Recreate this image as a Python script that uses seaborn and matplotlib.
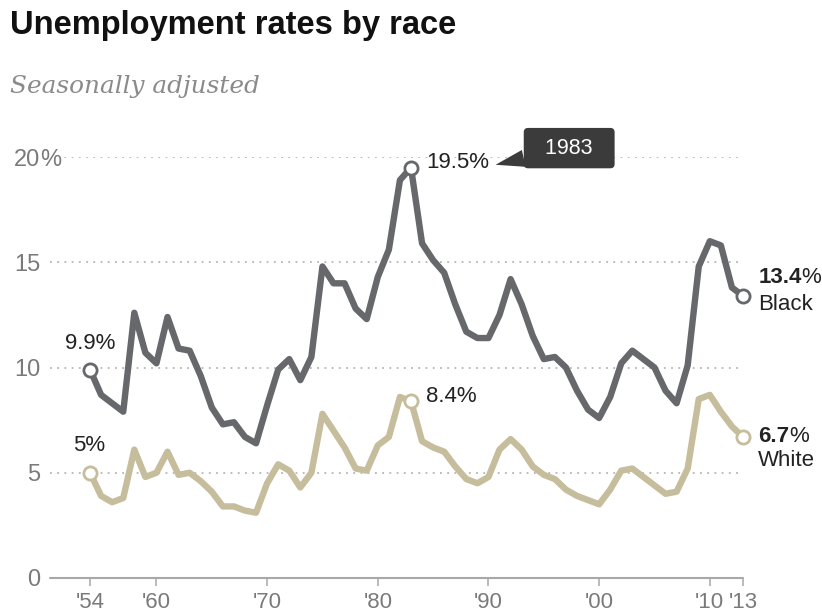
import numpy as np
import pandas as pd
import matplotlib
matplotlib.use("Agg")
import matplotlib.pyplot as plt
import seaborn as sns

# annual unemployment rates, %
years = list(range(1954, 2014))
black = [9.9, 8.7, 8.3, 7.9, 12.6, 10.7, 10.2, 12.4, 10.9, 10.8,
         9.6, 8.1, 7.3, 7.4, 6.7, 6.4, 8.2, 9.9, 10.4, 9.4,
         10.5, 14.8, 14.0, 14.0, 12.8, 12.3, 14.3, 15.6, 18.9, 19.5,
         15.9, 15.1, 14.5, 13.0, 11.7, 11.4, 11.4, 12.5, 14.2, 13.0,
         11.5, 10.4, 10.5, 10.0, 8.9, 8.0, 7.6, 8.6, 10.2, 10.8,
         10.4, 10.0, 8.9, 8.3, 10.1, 14.8, 16.0, 15.8, 13.8, 13.4]
white = [5.0, 3.9, 3.6, 3.8, 6.1, 4.8, 5.0, 6.0, 4.9, 5.0,
         4.6, 4.1, 3.4, 3.4, 3.2, 3.1, 4.5, 5.4, 5.1, 4.3,
         5.0, 7.8, 7.0, 6.2, 5.2, 5.1, 6.3, 6.7, 8.6, 8.4,
         6.5, 6.2, 6.0, 5.3, 4.7, 4.5, 4.8, 6.1, 6.6, 6.1,
         5.3, 4.9, 4.7, 4.2, 3.9, 3.7, 3.5, 4.2, 5.1, 5.2,
         4.8, 4.4, 4.0, 4.1, 5.2, 8.5, 8.7, 7.9, 7.2, 6.7]

xticks = [1954, 1960, 1970, 1980, 1990, 2000, 2010, 2013]
xlabels = ["'54", "'60", "'70", "'80", "'90", "'00", "'10", "'13"]
yticks = [0, 5, 10, 15, 20]
ylabels = ["0", "5", "10", "15", "20"]
marked_years = [1954, 1983, 2013]

BLACK_C = "#67686c"
WHITE_C = "#c6bd9c"
TICK_C = "#7a7a7a"
TEXT_C = "#222222"

df = pd.DataFrame({"year": years, "Black": black, "White": white})

sns.set_style("white")
plt.rcParams["font.family"] = ["Liberation Sans", "DejaVu Sans"]

fig = plt.figure(figsize=(8.22, 6.16), dpi=100)
ax = fig.add_axes([0.0608, 0.0617, 0.8431, 0.6834])

for col, c in [("White", WHITE_C), ("Black", BLACK_C)]:
    sns.lineplot(data=df, x="year", y=col, color=c, lw=4.6, ax=ax,
                 clip_on=False, zorder=3, solid_joinstyle="round",
                 solid_capstyle="round")
    pts = df[df["year"].isin(marked_years)]
    ax.plot(pts["year"], pts[col], "o", ms=9.5, mfc="white", mec=c,
            mew=2.0, clip_on=False, zorder=4)

ax.set_xlim(1950.38, 2013)
ax.set_ylim(0, 20)
ax.set_xticks(xticks)
ax.set_xticklabels(xlabels)
ax.set_yticks(yticks)
ax.set_yticklabels(ylabels)
ax.set_xlabel("")
ax.set_ylabel("")
for s in ax.spines.values():
    s.set_visible(False)
ax.axhline(0, color="#a8a8a8", lw=1.5, zorder=2, clip_on=False)
ax.yaxis.grid(True, color="#b5b5b5", lw=1.3, linestyle=(0, (1, 3)))
ax.xaxis.grid(False)
ax.tick_params(axis="x", length=6, width=1.1, color="#a8a8a8", pad=4,
               labelsize=16, labelcolor=TICK_C, direction="out", bottom=True)
ax.tick_params(axis="y", length=0, pad=7, labelsize=17, labelcolor=TICK_C)

fig.canvas.draw()
top_lbl = ax.get_yticklabels()[-1]
ax.annotate("%", xy=(1, 0), xycoords=top_lbl, ha="left", va="bottom",
            fontsize=17, color=TICK_C, zorder=5,
            bbox=dict(fc="white", ec="none", pad=1))

# point labels
ann = dict(textcoords="offset points", fontsize=16, color=TEXT_C)
ax.annotate("9.9%", xy=(1954, black[0]), xytext=(0, 19), ha="center", va="center", **ann)
ax.annotate("5%", xy=(1954, white[0]), xytext=(-1, 19.5), ha="center", va="center", **ann)
i83 = years.index(1983)
lbl195 = ax.annotate("19.5%", xy=(1983, black[i83]), xytext=(11, 3.5),
                     ha="left", va="center", **ann)
ax.annotate("8.4%", xy=(1983, white[i83]), xytext=(11, 3.5),
            ha="left", va="center", **ann)

b13 = ax.annotate("13.4", xy=(2013, black[-1]), xytext=(11, 13.5), ha="left",
                  va="center", fontweight="bold", annotation_clip=False, **ann)
ax.annotate("%", xy=(1, 0), xycoords=b13, ha="left", va="bottom",
            fontsize=16, color=TEXT_C, annotation_clip=False)
ax.annotate("Black", xy=(2013, black[-1]), xytext=(11, -6.5), ha="left",
            va="center", annotation_clip=False, **ann)
w13 = ax.annotate("6.7", xy=(2013, white[-1]), xytext=(11, 0.5), ha="left",
                  va="center", fontweight="bold", annotation_clip=False, **ann)
ax.annotate("%", xy=(1, 0), xycoords=w13, ha="left", va="bottom",
            fontsize=16, color=TEXT_C, annotation_clip=False)
ax.annotate("White", xy=(2013, white[-1]), xytext=(11, -17), ha="left",
            va="center", annotation_clip=False, **ann)

# tooltip for the 1983 peak
ax.annotate("  1983  ", xy=(1.1, 0.4), xycoords=lbl195,
            xytext=(53, 12), textcoords="offset points",
            ha="center", va="center", fontsize=15.5, color="white",
            bbox=dict(boxstyle="round,pad=0.45,rounding_size=0.2",
                      fc="#3b3b3b", ec="none"),
            arrowprops=dict(arrowstyle="wedge,tail_width=0.8,shrink_factor=0.5",
                            fc="#3b3b3b", ec="none", shrinkA=0, shrinkB=0),
            annotation_clip=False)

fig.text(10 / 822, 1 - 34 / 616, "Unemployment rates by race",
         fontsize=23.5, fontweight="bold", color="#111111", va="baseline")
fig.text(10 / 822, 1 - 93 / 616, "Seasonally adjusted",
         fontsize=17.8, style="italic", color="#8a8a8a", va="baseline",
         family=["DejaVu Serif"])

fig.savefig("out.png", dpi=100)
